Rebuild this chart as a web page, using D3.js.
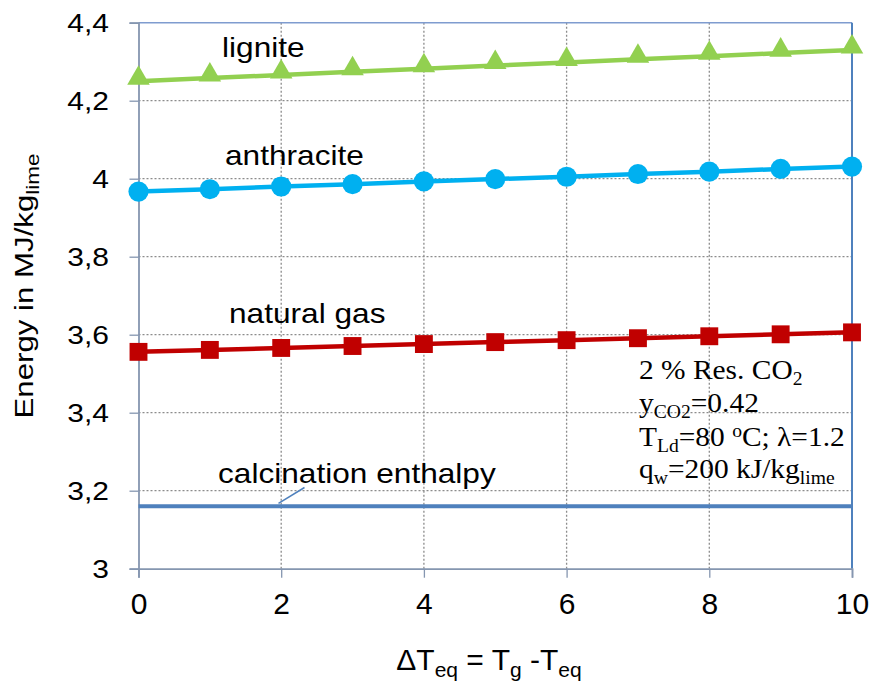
<!DOCTYPE html>
<html>
<head>
<meta charset="utf-8">
<script src="https://cdn.jsdelivr.net/npm/d3@7"></script>
<style>
  html, body { margin: 0; padding: 0; background: #fff; }
  svg { display: block; font-family: "Liberation Sans", Arial, sans-serif; }
</style>
</head>
<body>
<svg id="chart" width="874" height="689"></svg>
<script>
// Temperature difference ΔT_eq (x values)
const deltaT = [0, 1, 2, 3, 4, 5, 6, 7, 8, 9, 10];
// Specific energy demand in MJ/kg lime for each fuel
const lignite     = [4.250, 4.258, 4.266, 4.274, 4.282, 4.290, 4.298, 4.306, 4.314, 4.322, 4.330];
const anthracite  = [3.967, 3.973, 3.980, 3.986, 3.993, 3.999, 4.005, 4.012, 4.018, 4.025, 4.031];
const naturalGas  = [3.556, 3.561, 3.566, 3.571, 3.576, 3.581, 3.586, 3.591, 3.596, 3.601, 3.606];
// Calcination enthalpy (constant reference level)
const calcination = [3.16, 3.16];
const calcinationX = [0, 10];
// Axis ticks
const xTicks = [0, 2, 4, 6, 8, 10];
const yTicks = [3, 3.2, 3.4, 3.6, 3.8, 4, 4.2, 4.4];

const svg = d3.select("#chart");
const plotL = 138.5, plotR = 852, plotT = 22.7, plotB = 568.7;

const x = d3.scaleLinear().domain([0, 10]).range([plotL, plotR]);
const y = d3.scaleLinear().domain([3, 4.4]).range([plotB, plotT]);
const fmt = v => d3.format(".1f")(v).replace(".", ",").replace(",0", "");

// Dotted grid
const grid = svg.append("g");
grid.selectAll("line.hg").data(yTicks.filter(v => v > 3 && v < 4.4)).enter().append("line")
  .attr("x1", plotL).attr("x2", plotR)
  .attr("y1", d => y(d)).attr("y2", d => y(d))
  .attr("stroke", "#8c8c8c").attr("stroke-width", 1.3).attr("stroke-dasharray", "2,2");
grid.selectAll("line.vg").data(xTicks.filter(v => v > 0 && v < 10)).enter().append("line")
  .attr("x1", d => x(d)).attr("x2", d => x(d))
  .attr("y1", plotT).attr("y2", plotB)
  .attr("stroke", "#8c8c8c").attr("stroke-width", 1.3).attr("stroke-dasharray", "2,2");

// Plot frame: top and right edges
svg.append("line").attr("x1", plotL).attr("x2", plotR).attr("y1", plotT).attr("y2", plotT)
  .attr("stroke", "#7f9ccf").attr("stroke-width", 1.5);
svg.append("line").attr("x1", plotR).attr("x2", plotR).attr("y1", plotT).attr("y2", plotB)
  .attr("stroke", "#4f81bd").attr("stroke-width", 2);

// Axes
const xAxis = d3.axisBottom(x).tickValues(xTicks).tickSize(9).tickPadding(15).tickFormat(d3.format("d"));
const yAxis = d3.axisLeft(y).tickValues(yTicks).tickSize(9).tickPadding(20).tickFormat(fmt);

const gx = svg.append("g").attr("transform", `translate(0,${plotB})`).call(xAxis);
const gy = svg.append("g").attr("transform", `translate(${plotL},0)`).call(yAxis);
[gx, gy].forEach(g => {
  g.select(".domain").attr("stroke", "#8596b0").attr("stroke-width", 1.8);
  g.selectAll(".tick line").attr("stroke", "#8596b0").attr("stroke-width", 1.3);
  g.selectAll(".tick text").attr("fill", "#000")
    .attr("font-family", "'Liberation Sans', Arial, sans-serif");
});
gx.selectAll(".tick text").attr("font-size", 30);
// y tick labels: slightly widened glyphs, right edge kept at the label column
gy.selectAll(".tick text").attr("font-size", 25).attr("dy", "0.36em")
  .attr("x", 0).attr("transform", "translate(-29.5,0) scale(1.2,1)");

// Calcination enthalpy line
svg.append("line")
  .attr("x1", x(calcinationX[0])).attr("x2", x(calcinationX[1]))
  .attr("y1", y(calcination[0])).attr("y2", y(calcination[1]))
  .attr("stroke", "#4f81bd").attr("stroke-width", 4);

// Fuel series
const line = d3.line().x((d, i) => x(deltaT[i])).y(d => y(d));
const series = [
  { values: lignite, color: "#92d050", marker: d3.symbolTriangle, size: 220, shift: -3 },
  { values: anthracite, color: "#00b0f0", marker: d3.symbolCircle, size: 320, shift: 0 },
  { values: naturalGas, color: "#c00000", marker: d3.symbolSquare, size: 320, shift: 0 }
];
series.forEach(s => {
  svg.append("path").datum(s.values).attr("d", line)
    .attr("fill", "none").attr("stroke", s.color).attr("stroke-width", 4.5);
  svg.append("g").selectAll("path").data(s.values).enter().append("path")
    .attr("d", d3.symbol().type(s.marker).size(s.size))
    .attr("transform", (d, i) => `translate(${x(deltaT[i])},${y(d) + s.shift})`)
    .attr("fill", s.color);
});

// Series labels
const labels = [
  { text: "lignite", x: 222, y: 57 },
  { text: "anthracite", x: 225, y: 165 },
  { text: "natural gas", x: 229, y: 323 },
  { text: "calcination enthalpy", x: 218, y: 483 }
];
svg.append("g").selectAll("text").data(labels).enter().append("text")
  .attr("transform", d => `translate(${d.x},${d.y}) scale(1.13,1)`)
  .attr("font-size", 28).attr("fill", "#000").text(d => d.text);

// Leader line to the calcination enthalpy level
svg.append("line").attr("x1", 278.5).attr("y1", y(calcination[0]) - 3)
  .attr("x2", 304.5).attr("y2", 487.5)
  .attr("stroke", "#4f81bd").attr("stroke-width", 1.5);

// Process parameters
const note = svg.append("g").attr("font-family", "'Liberation Serif', 'Times New Roman', serif")
  .attr("font-size", 27).attr("fill", "#000");
const noteLine = yb => note.append("text").attr("transform", `translate(639,${yb}) scale(1.09,1)`);
const sub = 18;
const t1 = noteLine(379);
t1.append("tspan").text("2 % Res. CO");
t1.append("tspan").attr("font-size", sub).attr("dy", 6).text("2");
const t2 = noteLine(412);
t2.append("tspan").text("y");
t2.append("tspan").attr("font-size", sub).attr("dy", 6).text("CO2");
t2.append("tspan").attr("dy", -6).text("=0.42");
const t3 = noteLine(446);
t3.append("tspan").text("T");
t3.append("tspan").attr("font-size", sub).attr("dy", 6).text("Ld");
t3.append("tspan").attr("dy", -6).text("=80 ");
t3.append("tspan").attr("font-size", sub).attr("dy", -9).text("o");
t3.append("tspan").attr("dy", 9).text("C; λ=1.2");
const t4 = noteLine(478);
t4.append("tspan").text("q");
t4.append("tspan").attr("font-size", sub).attr("dy", 6).text("w");
t4.append("tspan").attr("dy", -6).text("=200 kJ/kg");
t4.append("tspan").attr("font-size", sub).attr("dy", 6).text("lime");

// Axis titles
const yt = svg.append("text").attr("transform", "translate(33,286) rotate(-90) scale(1.25,1)")
  .attr("text-anchor", "middle").attr("font-size", 25).attr("fill", "#000");
yt.append("tspan").text("Energy in MJ/kg");
yt.append("tspan").attr("font-size", 18).attr("dy", 6).text("lime");

const xt = svg.append("text").attr("x", 489).attr("y", 670)
  .attr("text-anchor", "middle").attr("font-size", 30).attr("fill", "#000");
xt.append("tspan").text("ΔT");
xt.append("tspan").attr("font-size", 21).attr("dy", 7).text("eq");
xt.append("tspan").attr("dy", -7).text(" = T");
xt.append("tspan").attr("font-size", 21).attr("dy", 7).text("g");
xt.append("tspan").attr("dy", -7).text(" -T");
xt.append("tspan").attr("font-size", 21).attr("dy", 7).text("eq");
</script>
</body>
</html>
